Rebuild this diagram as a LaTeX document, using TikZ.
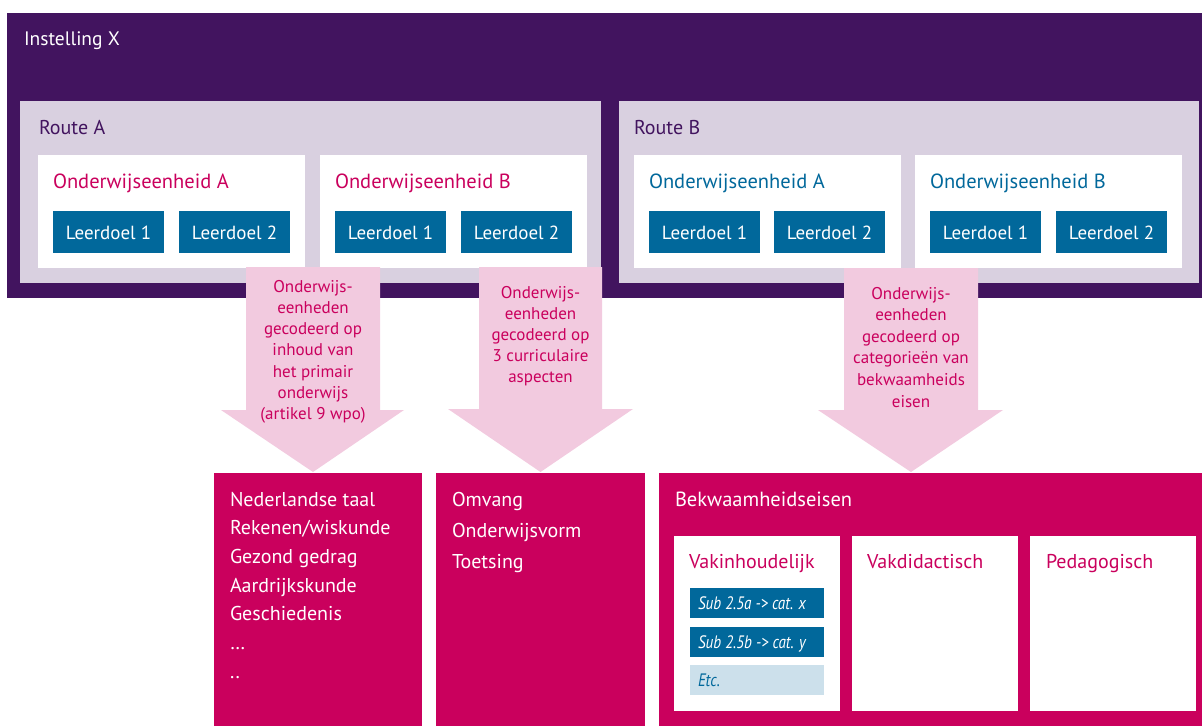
\documentclass[tikz,border=0pt]{standalone}
\usepackage{fontspec}
\setmainfont{PT Sans}
\definecolor{rvio}{HTML}{42145F}
\definecolor{rlav}{HTML}{D9D0E0}
\definecolor{rmag}{HTML}{CA005D}
\definecolor{rpink}{HTML}{F2CADF}
\definecolor{rblue}{HTML}{01689B}
\definecolor{rlblue}{HTML}{CCE0EB}
\tikzset{
  blk/.style={draw=none, inner sep=0pt, outer sep=0pt, anchor=north west},
  lbl/.style={anchor=base west, inner sep=0pt, outer sep=0pt},
  ctr/.style={anchor=base, inner sep=0pt, outer sep=0pt},
  big/.style={font=\fontsize{20}{24}\selectfont},
  oetitle/.style={font=\fontsize{20.5}{24}\selectfont},
  ldtxt/.style={font=\fontsize{19}{22}\selectfont},
  arrtxt/.style={ctr, text=rmag, font=\fontsize{17}{20}\selectfont},
  subtxt/.style={lbl, font=\fontsize{18}{20}\selectfont\itshape},
}
\newcommand\boxat[6]{\node[blk, fill=#6, minimum width=#4pt, minimum height=#5pt] (#1) at (#2,#3) {};}
\newcommand\narrow[1]{\scalebox{0.84}[1]{#1}}
\begin{document}
\begin{tikzpicture}[x=1pt,y=-1pt]
\useasboundingbox (0,0) rectangle (1202,726);
% outer
\boxat{inst}{7}{13}{1195}{285}{rvio}
\node[lbl, text=white, font=\fontsize{19.5}{24}\selectfont] (instlbl) at (24,45) {Instelling X};
% routes
\boxat{routeA}{20}{101}{581}{182}{rlav}
\boxat{routeB}{619}{101}{580}{182}{rlav}
\node[lbl, big, text=rvio] (rAlbl) at (39,134) {Route A};
\node[lbl, big, text=rvio] (rBlbl) at (634,134) {Route B};
% onderwijseenheden
\boxat{oAA}{38}{155}{267}{113}{white}
\boxat{oAB}{320}{155}{267}{113}{white}
\boxat{oBA}{634}{155}{267}{113}{white}
\boxat{oBB}{915}{155}{267}{113}{white}
\node[lbl, oetitle, text=rmag] (oAAl) at (53,188) {Onderwijseenheid A};
\node[lbl, oetitle, text=rmag] (oABl) at (335,188) {Onderwijseenheid B};
\node[lbl, oetitle, text=rblue] (oBAl) at (649,188) {Onderwijseenheid A};
\node[lbl, oetitle, text=rblue] (oBBl) at (930,188) {Onderwijseenheid B};
% leerdoelen
\foreach \nm/\x/\t in {l1/53/1, l2/179/2, l3/335/1, l4/461/2, l5/649/1, l6/774/2, l7/930/1, l8/1056/2}{
  \boxat{\nm}{\x}{211}{111}{42}{rblue}
  \node[ctr, ldtxt, text=white] (\nm t) at ([yshift=-7pt]\nm.center) {Leerdoel \t};
}
% arrows
\fill[rpink] (246,267) -- (380,267) -- (380,410) -- (404,410) -- (313,472) -- (221,410) -- (246,410) -- cycle;
\fill[rpink] (479,267) -- (602,267) -- (602,409) -- (633,409) -- (540.5,472) -- (448,409) -- (479,409) -- cycle;
\fill[rpink] (844,268) -- (978,268) -- (978,410) -- (1003,410) -- (911,472) -- (818,410) -- (844,410) -- cycle;
\foreach \t [count=\i] in {Onderwijs-, eenheden, gecodeerd op, inhoud van, het primair, onderwijs, (artikel 9 wpo)}
  \node[arrtxt] (a1t\i) at (313,292+21.3*\i-21.3) {\t};
\foreach \t [count=\i] in {Onderwijs-, eenheden, gecodeerd op, 3 curriculaire, aspecten}
  \node[arrtxt] (a2t\i) at (540.5,298+21*\i-21) {\t};
\foreach \t [count=\i] in {Onderwijs-, eenheden, gecodeerd op, categorieën van, bekwaamheids, eisen}
  \node[arrtxt] (a3t\i) at (911,299+21.6*\i-21.6) {\t};
% bottom boxes
\boxat{inh}{214}{473}{208}{253}{rmag}
\boxat{cur}{436}{473}{209}{253}{rmag}
\boxat{bek}{659}{473}{543}{253}{rmag}
\foreach \t [count=\i] in {Nederlandse taal, Rekenen/wiskunde, Gezond gedrag, Aardrijkskunde, Geschiedenis, \dots, ..}
  \node[lbl, big, text=white] (inh\i) at (230,506+28.7*\i-28.7) {\t};
\foreach \t [count=\i] in {Omvang, Onderwijsvorm, Toetsing}
  \node[lbl, big, text=white] (cur\i) at (452,506+31*\i-31) {\t};
\node[lbl, oetitle, text=white] (beklbl) at (675,506) {Bekwaamheidseisen};
\boxat{vak}{674}{536}{166}{175}{white}
\boxat{vdid}{852}{536}{166}{175}{white}
\boxat{ped}{1030}{536}{166}{175}{white}
\node[lbl, big, text=rmag] (vakl) at (689,568) {Vakinhoudelijk};
\node[lbl, big, text=rmag] (vdidl) at (867,568) {Vakdidactisch};
\node[lbl, big, text=rmag] (pedl) at (1046,568) {Pedagogisch};
\boxat{s1}{690}{588}{134}{30}{rblue}
\boxat{s2}{690}{627}{134}{30}{rblue}
\boxat{s3}{690}{665}{134}{30}{rlblue}
\node[subtxt, text=white] (s1t) at (698,609) {\narrow{Sub 2.5a -> cat. x}};
\node[subtxt, text=white] (s2t) at (698,648) {\narrow{Sub 2.5b -> cat. y}};
\node[subtxt, text=rblue] (s3t) at (698,686) {\narrow{Etc.}};
\end{tikzpicture}
\end{document}
